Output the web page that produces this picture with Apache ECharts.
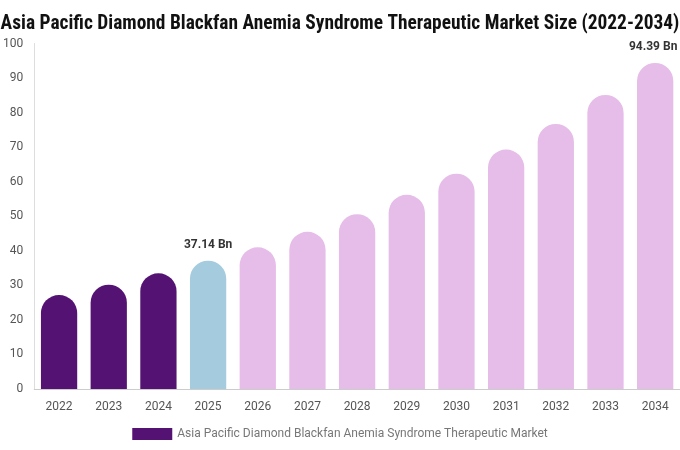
<!DOCTYPE html>
<html>
<head>
<meta charset="utf-8">
<script src="https://cdn.jsdelivr.net/npm/echarts@6/dist/echarts.min.js"></script>
<style>html,body{margin:0;padding:0;background:#fff}#c{width:680px;height:450px}</style>
</head>
<body>
<div id="c"></div>
<script>
const titleText = 'Asia Pacific Diamond Blackfan Anemia Syndrome Therapeutic Market Size (2022-2034)';
const seriesName = 'Asia Pacific Diamond Blackfan Anemia Syndrome Therapeutic Market';
const years = ['2022','2023','2024','2025','2026','2027','2028','2029','2030','2031','2032','2033','2034'];
const values = [27.2, 30.2, 33.5, 37.14, 41.0, 45.5, 50.6, 56.2, 62.3, 69.3, 76.7, 85.1, 94.39];
const labelledYears = ['2025','2034'];
const yTicks = [0,10,20,30,40,50,60,70,80,90,100];

const colHist = '#541273', colBase = '#a5cbdf', colFcst = '#e6bce8';

const chart = echarts.init(document.getElementById('c'));
chart.setOption({
  animation: false,
  title: {
    text: titleText, left: 'center', top: 10,
    textStyle: { fontFamily: '"Liberation Sans Narrow", "Roboto Condensed", "DejaVu Sans Condensed", Arial, sans-serif', fontWeight: 'bold', fontSize: 19.4, color: '#111' }
  },
  legend: {
    data: [{ name: seriesName, icon: 'rect' }], bottom: 5, left: 'center', itemWidth: 40, itemHeight: 12,
    textStyle: { color: '#777', fontSize: 12, fontFamily: 'Roboto, sans-serif' },
    itemStyle: { color: colHist }
  },
  grid: { left: 34, right: 0, top: 43.5, bottom: 61, containLabel: false },
  xAxis: {
    type: 'category', data: years,
    axisLine: { lineStyle: { color: '#ccc' } },
    axisTick: { show: false },
    axisLabel: { color: '#555', fontSize: 12, margin: 12, fontFamily: 'Roboto, sans-serif' }
  },
  yAxis: {
    type: 'value', min: yTicks[0], max: yTicks[yTicks.length-1], interval: 10,
    axisLine: { show: true, lineStyle: { color: '#ddd' } },
    splitLine: { show: false },
    axisLabel: { color: '#555', fontSize: 12, margin: 11, fontFamily: 'Roboto, sans-serif' }
  },
  series: [{
    name: seriesName, type: 'bar', barCategoryGap: '27%',
    data: values.map((v, i) => ({
      value: v,
      itemStyle: { color: i < 3 ? colHist : (i === 3 ? colBase : colFcst), borderRadius: [18,18,0,0] },
      label: {
        show: labelledYears.includes(years[i]), position: 'top', distance: 10,
        formatter: p => p.value + ' Bn', fontWeight: 'bold', fontSize: 12, color: '#333',
        fontFamily: 'Roboto, sans-serif', offset: i === years.length - 1 ? [-2, 0] : [0, 0]
      }
    }))
  }]
});
</script>
</body>
</html>
